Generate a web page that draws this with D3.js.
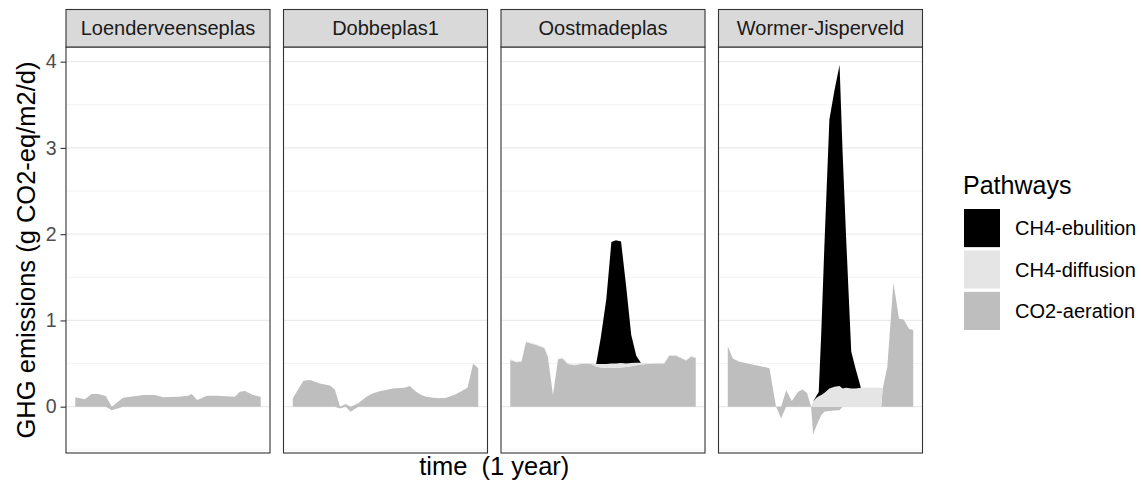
<!DOCTYPE html>
<html>
<head>
<meta charset="utf-8">
<script src="https://cdn.jsdelivr.net/npm/d3@7"></script>
<style>
  body { margin: 0; background: #ffffff; }
  svg { display: block; font-family: "Liberation Sans", Arial, Helvetica, sans-serif; }
</style>
</head>
<body>
<svg id="chart" width="1142" height="482"></svg>
<script>
// ---- Facet labels and legend entries ----
const lakes = ["Loenderveenseplas", "Dobbeplas1", "Oostmadeplas", "Wormer-Jisperveld"];
const pathways = ["CO2-aeration", "CH4-diffusion", "CH4-ebulition"];   // stacking order, bottom to top
const legendOrder = ["CH4-ebulition", "CH4-diffusion", "CO2-aeration"];
const yTicks = [0, 1, 2, 3, 4];
const yMinorTicks = [-0.5, 0.5, 1.5, 2.5, 3.5];

// ---- Loenderveenseplas (day of year, g CO2-eq/m2/d) ----
const loenDays = [0, 19, 32, 45, 60, 72, 94, 134, 157, 173, 203, 222, 229, 240, 259, 278, 314, 324, 334, 350, 365];
const loenCO2  = [0.11, 0.085, 0.147, 0.147, 0.124, -0.04, 0.105, 0.136, 0.136, 0.108, 0.116, 0.128, 0.147, 0.077, 0.128, 0.128, 0.116, 0.174, 0.182, 0.136, 0.116];
const loenDiff = [0, 0, 0, 0, 0, 0, 0, 0, 0, 0, 0, 0, 0, 0, 0, 0, 0, 0, 0, 0, 0];
const loenEbul = [0, 0, 0, 0, 0, 0, 0, 0, 0, 0, 0, 0, 0, 0, 0, 0, 0, 0, 0, 0, 0];

// ---- Dobbeplas1 ----
const dobbDays = [0, 21, 34, 53, 73, 83, 93, 104, 114, 129, 145, 158, 171, 197, 220, 230, 243, 253, 263, 276, 289, 302, 321, 344, 355, 365];
const dobbCO2  = [0.097, 0.30, 0.31, 0.27, 0.245, 0.195, -0.02, 0.03, -0.06, 0.04, 0.116, 0.155, 0.18, 0.21, 0.22, 0.24, 0.174, 0.136, 0.116, 0.105, 0.097, 0.105, 0.144, 0.22, 0.50, 0.445];
const dobbDiff = [0, 0, 0, 0, 0, 0, 0, 0, 0, 0, 0, 0, 0, 0, 0, 0, 0, 0, 0, 0, 0, 0, 0, 0, 0, 0];
const dobbEbul = [0, 0, 0, 0, 0, 0, 0, 0, 0, 0, 0, 0, 0, 0, 0, 0, 0, 0, 0, 0, 0, 0, 0, 0, 0, 0];

// ---- Oostmadeplas ----
const oostDays = [0, 12, 22, 31, 51, 67, 74, 84, 94, 103, 113, 126, 139, 159, 169, 178, 189, 199, 208, 218, 228, 238, 248, 257, 270, 290, 303, 313, 326, 346, 356, 365];
const oostCO2  = [0.54, 0.515, 0.52, 0.75, 0.715, 0.68, 0.58, 0.135, 0.55, 0.56, 0.495, 0.48, 0.495, 0.495, 0.465, 0.455, 0.45, 0.45, 0.45, 0.455, 0.46, 0.47, 0.48, 0.49, 0.495, 0.5, 0.5, 0.59, 0.59, 0.535, 0.58, 0.565];
const oostDiff = [0.01, 0.01, 0.01, 0.01, 0.01, 0.01, 0.01, 0.01, 0.01, 0.01, 0.01, 0.01, 0.01, 0.01, 0.03, 0.04, 0.045, 0.05, 0.05, 0.05, 0.04, 0.035, 0.03, 0.02, 0.01, 0.01, 0.01, 0.01, 0.01, 0.01, 0.01, 0.01];
const oostEbul = [0, 0, 0, 0, 0, 0, 0, 0, 0, 0, 0, 0, 0, 0, 0, 0.3, 0.75, 1.41, 1.43, 1.41, 0.9, 0.33, 0.08, 0, 0, 0, 0, 0, 0, 0, 0, 0];

// ---- Wormer-Jisperveld ----
const wormDays = [0, 10, 23, 39, 72, 82, 95, 105, 115, 126, 138, 147, 156, 164, 168, 174, 179, 184, 190, 200, 210, 220, 226, 233, 243, 252, 262, 279, 302, 305, 314, 326, 337, 346, 357, 365];
const wormCO2  = [0.70, 0.56, 0.52, 0.50, 0.46, 0.445, 0.0, -0.135, 0.19, 0.065, 0.17, 0.20, 0.16, 0.0, -0.32, -0.23, -0.16, -0.1, -0.06, -0.05, -0.045, -0.04, 0, 0, 0, 0, 0, 0, 0, 0.21, 0.46, 1.44, 1.02, 1.01, 0.90, 0.89];
const wormDiff = [0, 0, 0, 0, 0, 0, 0, 0, 0, 0, 0, 0, 0, 0.0, 0.06, 0.10, 0.12, 0.135, 0.16, 0.21, 0.23, 0.24, 0.21, 0.22, 0.21, 0.21, 0.22, 0.22, 0.22, 0, 0, 0, 0, 0, 0, 0];
const wormEbul = [0, 0, 0, 0, 0, 0, 0, 0, 0, 0, 0, 0, 0, 0, 0, 0.02, 0.05, 0.72, 1.68, 3.12, 3.44, 3.72, 2.74, 1.73, 0.43, 0.22, 0, 0, 0, 0, 0, 0, 0, 0, 0, 0];

const lakeSeries = [
  { days: loenDays, co2: loenCO2, diff: loenDiff, ebul: loenEbul },
  { days: dobbDays, co2: dobbCO2, diff: dobbDiff, ebul: dobbEbul },
  { days: oostDays, co2: oostCO2, diff: oostDiff, ebul: oostEbul },
  { days: wormDays, co2: wormCO2, diff: wormDiff, ebul: wormEbul }
];

// ---- Appearance ----
const fills = { "CH4-ebulition": "#000000", "CH4-diffusion": "#E5E5E5", "CO2-aeration": "#BEBEBE" };
const panelLeft = 66, panelWidth = 204, panelGap = 13.5;
const panelTop = 47, panelBottom = 453, stripTop = 9.5;

const svg = d3.select("#chart");

const y = d3.scaleLinear().domain([-0.537, 4.17]).range([panelBottom, panelTop]);

// ggplot-style stacking: non-negative values build upward, negative values downward
function offsetSigned(series, order) {
  const n = series[0].length;
  for (let j = 0; j < n; ++j) {
    let up = 0, down = 0;
    for (let i = 0; i < order.length; ++i) {
      const d = series[order[i]][j];
      const v = d[1] - d[0];
      if (v >= 0) { d[0] = up; d[1] = up += v; }
      else { d[1] = down; d[0] = down += v; }
    }
  }
}

const stack = d3.stack()
  .keys(pathways)
  .value((row, key) => row[key])
  .order(d3.stackOrderNone)
  .offset(offsetSigned);

lakes.forEach((lake, i) => {
  const x0 = panelLeft + i * (panelWidth + panelGap);
  const x = d3.scaleLinear().domain([-18.25, 383.25]).range([x0, x0 + panelWidth]);
  const s = lakeSeries[i];
  const rows = s.days.map((day, k) => ({
    day,
    "CO2-aeration": s.co2[k],
    "CH4-diffusion": s.diff[k],
    "CH4-ebulition": s.ebul[k]
  }));
  const layers = stack(rows);

  const g = svg.append("g");

  // grid
  g.selectAll("line.minor").data(yMinorTicks).join("line")
    .attr("x1", x0).attr("x2", x0 + panelWidth)
    .attr("y1", d => y(d)).attr("y2", d => y(d))
    .attr("stroke", "#EBEBEB").attr("stroke-width", 0.6);
  g.selectAll("line.major").data(yTicks).join("line")
    .attr("x1", x0).attr("x2", x0 + panelWidth)
    .attr("y1", d => y(d)).attr("y2", d => y(d))
    .attr("stroke", "#EBEBEB").attr("stroke-width", 1.2);

  const area = d3.area()
    .x(d => x(d.data.day))
    .y0(d => y(d[0]))
    .y1(d => y(d[1]));

  g.selectAll("path.layer").data(layers).join("path")
    .attr("d", area)
    .attr("fill", d => fills[d.key]);

  // panel border
  g.append("rect")
    .attr("x", x0).attr("y", panelTop)
    .attr("width", panelWidth).attr("height", panelBottom - panelTop)
    .attr("fill", "none").attr("stroke", "#333333").attr("stroke-width", 1.1);

  // strip
  g.append("rect")
    .attr("x", x0).attr("y", stripTop)
    .attr("width", panelWidth).attr("height", panelTop - stripTop)
    .attr("fill", "#D9D9D9").attr("stroke", "#333333").attr("stroke-width", 1.1);
  g.append("text")
    .attr("x", x0 + panelWidth / 2).attr("y", (stripTop + panelTop) / 2)
    .attr("text-anchor", "middle").attr("dominant-baseline", "central")
    .attr("font-size", 20).attr("fill", "#1A1A1A")
    .text(lake);
});

// y axis
const yAxis = d3.axisLeft(y).tickValues(yTicks).tickSize(5.5).tickPadding(4).tickFormat(d3.format("d"));
const ax = svg.append("g").attr("transform", `translate(${panelLeft},0)`).call(yAxis);
ax.select(".domain").remove();
ax.selectAll(".tick line").attr("stroke", "#333333").attr("stroke-width", 1.1);
ax.selectAll(".tick text").attr("fill", "#4D4D4D").attr("font-size", 19.5)
  .attr("font-family", "Liberation Sans, Arial, sans-serif");

// axis titles
const plotRight = panelLeft + 4 * panelWidth + 3 * panelGap;
svg.append("text")
  .attr("x", (panelLeft + plotRight) / 2).attr("y", 475)
  .attr("text-anchor", "middle").attr("font-size", 25.5).attr("fill", "#000")
  .text("time\u00A0 (1 year)");
svg.append("text")
  .attr("transform", `translate(35,${(panelTop + panelBottom) / 2}) rotate(-90)`)
  .attr("text-anchor", "middle").attr("font-size", 25.5).attr("fill", "#000")
  .text("GHG emissions (g CO2-eq/m2/d)");

// legend
const lg = svg.append("g").attr("transform", "translate(964,0)");
lg.append("text").attr("x", -1).attr("y", 194).attr("font-size", 25).attr("fill", "#000").text("Pathways");
const keyY = d3.scaleBand().domain(legendOrder).range([209, 330]).paddingInner(0.08);
lg.selectAll("rect.key").data(legendOrder).join("rect")
  .attr("x", 0).attr("y", d => keyY(d))
  .attr("width", 36).attr("height", keyY.bandwidth())
  .attr("fill", d => fills[d]);
lg.selectAll("text.lab").data(legendOrder).join("text")
  .attr("x", 51).attr("y", d => keyY(d) + keyY.bandwidth() / 2)
  .attr("dominant-baseline", "central")
  .attr("font-size", 20).attr("fill", "#000")
  .text(d => d);
</script>
</body>
</html>
